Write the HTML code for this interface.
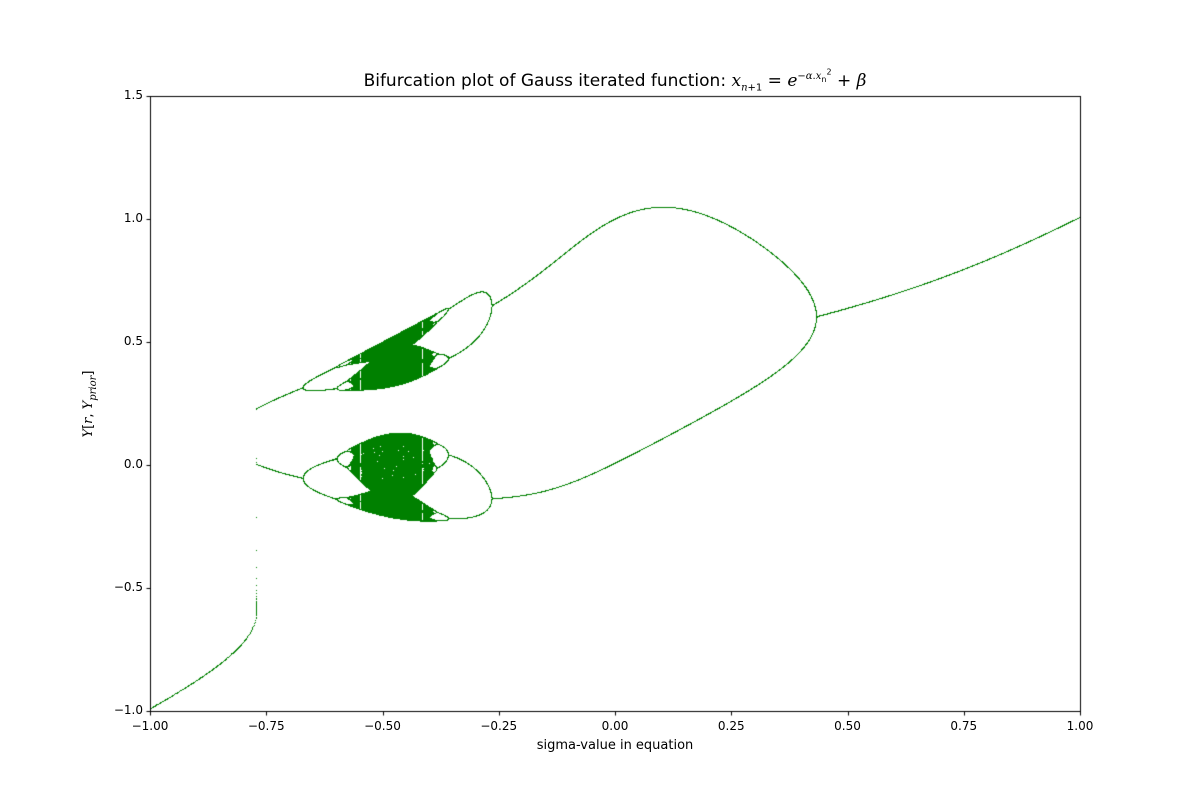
<!DOCTYPE html>
<html>
<head>
<meta charset="utf-8">
<style>
  html,body{margin:0;padding:0;background:#fff;}
  #wrap{position:relative;width:1200px;height:800px;font-family:"DejaVu Sans","Liberation Sans",sans-serif;color:#000;}
  canvas{position:absolute;left:0;top:0;}
  .tick{position:absolute;font-size:12px;white-space:nowrap;}
  #title{position:absolute;top:68px;left:0;width:1230px;text-align:center;font-size:17px;}
  #xlabel{position:absolute;top:738px;left:150px;width:930px;text-align:center;font-size:13px;}
  #ylabel{position:absolute;left:90px;top:404px;font-size:13px;transform:translate(-50%,-50%) rotate(-90deg);white-space:nowrap;}
  i{font-family:"DejaVu Serif","Liberation Serif",serif;}
</style>
</head>
<body>
<div id="wrap">
  <canvas id="c" width="1200" height="800"></canvas>
  <div id="title">Bifurcation plot of Gauss iterated function: <i>x</i><sub style="font-size:10px"><i>n</i>+1</sub> = <i>e</i><sup style="font-size:10px">−<i>α</i>.<i>x</i><sub style="font-size:8px">n</sub><sup style="font-size:8px">2</sup></sup> + <i>β</i></div>
  <div id="xlabel">sigma-value in equation</div>
  <div id="ylabel"><i>Y</i>[<i>r</i>, <i>Y</i><sub style="font-size:10px"><i>prior</i></sub>]</div>
</div>
<script>
const xTicks = [-1.00,-0.75,-0.50,-0.25,0.00,0.25,0.50,0.75,1.00];
const yTicks = [-1.0,-0.5,0.0,0.5,1.0,1.5];
const alpha = [4.9];
const betaRange = [-1.0, 1.0];
const yRange = [-1.0, 1.5];
const startValue = [-1.0];
const iterCounts = [1010, 1000];

const L=150,R=1080,T=96,B=711;
const sx=v=>L+(v-betaRange[0])/(betaRange[1]-betaRange[0])*(R-L);
const sy=v=>B-(v-yRange[0])/(yRange[1]-yRange[0])*(B-T);
const ctx=document.getElementById('c').getContext('2d');
const wrap=document.getElementById('wrap');

ctx.fillStyle='#008000';
const a=alpha[0];
const steps=(R-L)*2;
let x=startValue[0];
for(let s=0;s<=steps;s++){
  const b=betaRange[0]+(betaRange[1]-betaRange[0])*s/steps;
  const px=Math.floor(sx(b));
  for(let k=0;k<iterCounts[0];k++){
    x=Math.exp(-a*x*x)+b;
    if(k>=iterCounts[0]-iterCounts[1]){
      const py=Math.floor(sy(x));
      if(py>=T&&py<=B) ctx.fillRect(px,py,1,1);
    }
  }
}
ctx.strokeStyle='#000';ctx.lineWidth=1;
ctx.strokeRect(L+0.5,T+0.5,R-L,B-T);
ctx.beginPath();
xTicks.forEach(t=>{const xx=Math.round(sx(t))+0.5;ctx.moveTo(xx,B+0.5);ctx.lineTo(xx,B+4.5);});
yTicks.forEach(t=>{const y=Math.round(sy(t))+0.5;ctx.moveTo(L+0.5,y);ctx.lineTo(L-3.5,y);});
ctx.stroke();

xTicks.forEach(t=>{
  const d=document.createElement('div');
  d.className='tick';
  
  
  d.textContent=(t<0?'\u2212':'')+Math.abs(t).toFixed(2);
  d.style.top=(B+8)+'px';
  d.style.left=sx(t)+'px';
  d.style.transform='translateX(-50%)';
  wrap.appendChild(d);
});
yTicks.forEach(t=>{
  const d=document.createElement('div');
  d.className='tick';
  
  
  d.textContent=(t<0?'\u2212':'')+Math.abs(t).toFixed(1);
  d.style.top=(sy(t)-8)+'px';
  d.style.right=(1200-L+7)+'px';
  wrap.appendChild(d);
});
</script>
</body>
</html>
